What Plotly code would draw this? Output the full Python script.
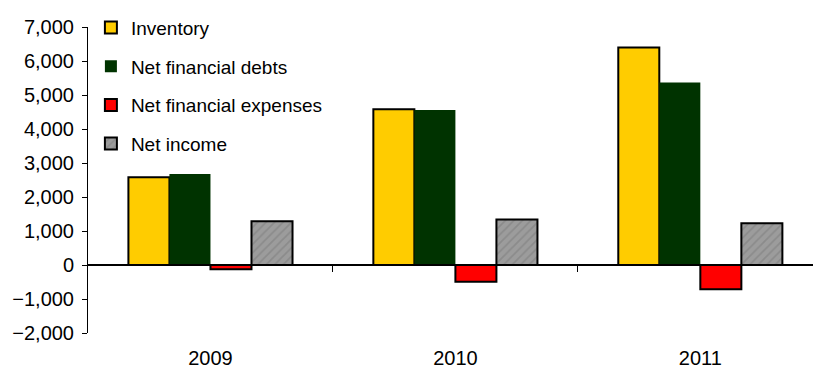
import plotly.graph_objects as go

# Annual figures (thousands)
years = ["2009", "2010", "2011"]
inventory = [2580, 4580, 6400]
net_financial_debts = [2680, 4560, 5370]
net_financial_expenses = [-125, -490, -715]
net_income = [1290, 1340, 1230]

y_ticks = [-2000, -1000, 0, 1000, 2000, 3000, 4000, 5000, 6000, 7000]

font_family = "Liberation Sans, Arial, sans-serif"
text_size = 19
tick_size = 20

fig = go.Figure()
fig.add_trace(go.Bar(
    name="Inventory", x=years, y=inventory, legendgroup="a",
    marker=dict(color="#FFCC00", line=dict(color="#000000", width=2)),
))
fig.add_trace(go.Bar(
    name="Net financial debts", x=years, y=net_financial_debts, legendgroup="b",
    marker=dict(color="#003300", line=dict(color="#003300", width=0)),
))
fig.add_trace(go.Bar(
    name="Net financial expenses", x=years, y=net_financial_expenses, legendgroup="c",
    marker=dict(color="#FF0000", line=dict(color="#000000", width=2)),
))
fig.add_trace(go.Bar(
    name="Net income", x=years, y=net_income, legendgroup="d",
    marker=dict(color="#999999", line=dict(color="#000000", width=2),
                pattern=dict(shape="/", fgcolor="#7a7a7a", bgcolor="#9c9c9c",
                             size=6, solidity=0.3)),
))

# Invisible trace that carries the zero-line axis with category boundary ticks
fig.add_trace(go.Scatter(x=years, y=[0, 0, 0], xaxis="x2", mode="markers",
                         marker=dict(opacity=0), showlegend=False, hoverinfo="skip"))

y_min, y_max = -2000, 7000
fig.update_layout(
    width=813, height=372,
    margin=dict(l=88, r=0, t=27, b=39),
    paper_bgcolor="white", plot_bgcolor="white",
    barmode="group", bargap=0.33, bargroupgap=0,
    font=dict(family=font_family, size=text_size, color="#000000"),
    showlegend=True,
    legend=dict(x=0.004, y=1.06, xanchor="left", yanchor="top",
                bgcolor="rgba(0,0,0,0)", font=dict(size=text_size),
                itemwidth=30, tracegroupgap=11, traceorder="grouped"),
    xaxis=dict(type="category", range=[-0.5, 2.46], showline=False, ticks="",
               showgrid=False, zeroline=False, tickfont=dict(size=tick_size),
               ticklabelstandoff=11),
    xaxis2=dict(type="linear", overlaying="x", anchor="free",
                position=(0 - y_min) / (y_max - y_min),
                range=[-0.5, 2.46], showline=True, linecolor="#000000", linewidth=1.5,
                tickvals=[0.5, 1.5], ticks="outside", ticklen=6, tickcolor="#000000",
                showticklabels=False, showgrid=False, zeroline=False),
    yaxis=dict(range=[y_min, y_max], tickvals=y_ticks, tickformat=",",
               showline=True, linecolor="#000000", linewidth=1,
               ticks="outside", ticklen=5, tickcolor="#000000",
               showgrid=False, zeroline=False, tickfont=dict(size=tick_size),
               ticklabelstandoff=4),
)

fig.write_html("out.html")
